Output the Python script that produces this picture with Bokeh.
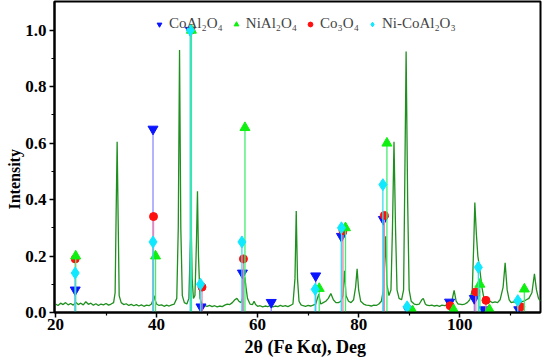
from bokeh.plotting import figure
from bokeh.models import Range1d, Legend, LegendItem, FixedTicker, ColumnDataSource, CustomJSTickFormatter, Title
from bokeh.embed import file_html
from bokeh.resources import INLINE

pattern_x = [20.0, 20.5, 21, 21.5, 22, 22.5, 23, 23.5, 24.0, 24.5, 25, 25.5, 26, 26.5, 27, 27.5, 28, 28.5, 29, 29.5,
             30, 30.5, 31, 31.5, 31.8, 32.0, 32.2, 32.4, 32.6, 33, 33.5, 34, 34.5, 35, 35.5, 36, 36.5, 37, 37.5, 38,
             38.5, 39, 39.3, 39.5, 39.7, 40, 40.5, 41, 41.5, 42, 42.5, 43, 43.5, 44, 44.3, 44.55, 44.8, 45.1, 45.5, 46,
             46.4, 46.65, 46.85, 47.05, 47.3, 47.6, 47.9, 48.1, 48.3, 48.6, 49, 49.5, 50, 50.5, 51, 51.5, 52, 52.5, 53, 53.5,
             54, 54.5, 55, 55.5, 55.9, 56.3, 56.7, 57.0, 57.3, 57.5, 57.7, 58, 58.5, 59, 59.3, 59.6, 60, 60.5, 61, 61.5,
             62, 62.5, 63, 63.5, 64, 64.5, 65, 65.5, 66, 66.5, 67, 67.4, 67.65, 67.9, 68.2, 68.6, 69, 69.5, 70, 70.5,
             71, 71.5, 72.1, 72.5, 73, 73.5, 74, 74.5, 75, 75.5, 76, 76.5, 76.9, 77.2, 77.5, 78, 78.5, 79, 79.4, 79.7,
             80, 80.4, 81, 81.5, 82, 82.5, 83, 83.5, 84, 84.5, 84.9, 85.2, 85.35, 85.6, 86, 86.4, 86.7, 87.0, 87.3, 87.6,
             88, 88.5, 88.9, 89.1, 89.4, 89.7, 90, 90.4, 91, 91.5, 92, 92.5, 92.8, 93.2, 93.5, 94, 94.5, 95, 95.5, 96,
             96.5, 97, 97.5, 98, 98.5, 98.9, 99.3, 99.7, 100, 100.5, 101, 101.5, 102, 102.5, 102.8, 103.0, 103.3, 103.6, 104, 104.4,
             104.8, 105.2, 105.7, 106, 106.5, 107, 107.5, 108, 108.6, 109.0, 109.4, 109.8, 110.2, 110.7, 111.2, 111.7, 112.2, 112.7, 113.2, 113.7,
             114.3, 114.8, 115.2, 115.6, 116]
pattern_y = [0.030, 0.025, 0.033, 0.028, 0.035, 0.027, 0.032, 0.026, 0.036, 0.028, 0.033, 0.027, 0.038, 0.029, 0.033, 0.026, 0.031, 0.025, 0.030, 0.027,
             0.032, 0.026, 0.030, 0.035, 0.070, 0.350, 0.605, 0.330, 0.060, 0.035, 0.028, 0.031, 0.025, 0.029, 0.024, 0.028, 0.023, 0.027, 0.022, 0.026,
             0.024, 0.030, 0.045, 0.060, 0.045, 0.030, 0.025, 0.027, 0.022, 0.026, 0.023, 0.027, 0.030, 0.050, 0.300, 0.930, 0.300, 0.060, 0.035, 0.030,
             0.050, 0.220, 0.310, 0.120, 0.050, 0.060, 0.250, 0.430, 0.200, 0.050, 0.030, 0.024, 0.022, 0.025, 0.021, 0.024, 0.020, 0.023, 0.021, 0.026,
             0.030, 0.028, 0.035, 0.045, 0.050, 0.040, 0.035, 0.050, 0.100, 0.125, 0.090, 0.050, 0.030, 0.028, 0.040, 0.028, 0.022, 0.024, 0.020, 0.023,
             0.021, 0.024, 0.020, 0.023, 0.021, 0.025, 0.022, 0.024, 0.021, 0.025, 0.030, 0.120, 0.360, 0.120, 0.040, 0.027, 0.024, 0.022, 0.025, 0.023,
             0.026, 0.030, 0.065, 0.030, 0.035, 0.040, 0.050, 0.067, 0.045, 0.035, 0.035, 0.040, 0.060, 0.148, 0.060, 0.040, 0.035, 0.045, 0.090, 0.155,
             0.080, 0.040, 0.030, 0.026, 0.025, 0.023, 0.026, 0.025, 0.030, 0.040, 0.080, 0.200, 0.270, 0.100, 0.060, 0.080, 0.300, 0.605, 0.300, 0.080,
             0.050, 0.045, 0.080, 0.400, 0.925, 0.400, 0.080, 0.040, 0.030, 0.028, 0.030, 0.045, 0.050, 0.030, 0.026, 0.024, 0.026, 0.023, 0.025, 0.022,
             0.026, 0.024, 0.027, 0.030, 0.045, 0.078, 0.040, 0.030, 0.030, 0.028, 0.030, 0.035, 0.045, 0.080, 0.250, 0.390, 0.280, 0.200, 0.150, 0.090,
             0.050, 0.040, 0.035, 0.040, 0.035, 0.038, 0.035, 0.045, 0.090, 0.176, 0.080, 0.045, 0.035, 0.038, 0.035, 0.040, 0.038, 0.040, 0.045, 0.050,
             0.070, 0.137, 0.080, 0.050, 0.040]

# Reference lines per phase
coal_x = [23.9, 39.3, 46.7, 48.8, 57.0, 62.7, 71.5, 76.6, 84.9, 89.8, 98.0, 102.9, 104.8, 111.7]
coal_y = [0.08, 0.65, 1.00, 0.02, 0.14, 0.036, 0.13, 0.27, 0.33, 0.01, 0.037, 0.05, 0.01, 0.01]
nial_x = [24.0, 39.8, 46.9, 57.5, 72.2, 77.4, 85.6, 90.7, 98.8, 104.0, 105.9, 112.8]
nial_y = [0.20, 0.20, 1.00, 0.655, 0.085, 0.30, 0.60, 0.005, 0.01, 0.10, 0.01, 0.083]
co3o4_x = [23.9, 39.4, 46.8, 49.0, 57.2, 76.9, 85.1, 90.1, 98.1, 103.2, 105.2, 112.1]
co3o4_y = [0.19, 0.34, 1.00, 0.09, 0.19, 0.29, 0.344, 0.01, 0.024, 0.073, 0.043, 0.02]
nico_x = [23.9, 39.3, 46.7, 48.7, 56.9, 71.4, 76.6, 84.8, 89.6, 103.7, 111.5]
nico_y = [0.14, 0.25, 1.00, 0.10, 0.25, 0.082, 0.30, 0.453, 0.02, 0.16, 0.042]

labels = ["CoAl\u2082O\u2084", "NiAl\u2082O\u2084", "Co\u2083O\u2084", "Ni-CoAl\u2082O\u2083"]
x_ticks = [20, 40, 60, 80, 100]
y_ticks = [0.0, 0.2, 0.4, 0.6, 0.8, 1.0]
x_title = "2\u03b8 (Fe K\u03b1), Deg"
y_title = "Intensity"

SERIF = "Liberation Serif"

p = figure(width=543, height=358, output_backend="svg", toolbar_location=None,
           x_range=Range1d(19.8, 116.0), y_range=Range1d(0.0, 1.102),
           min_border_left=54, min_border_right=3, min_border_top=1, min_border_bottom=0)
p.background_fill_color = "white"
p.border_fill_color = "white"
p.outline_line_color = "black"
p.outline_line_width = 2
p.xgrid.visible = False
p.ygrid.visible = False

p.axis.axis_line_width = 2
p.axis.major_tick_line_width = 1.5
p.axis.minor_tick_line_width = 1.2
p.axis.major_tick_in = 0
p.axis.major_tick_out = 5
p.axis.minor_tick_in = 0
p.axis.minor_tick_out = 3
p.axis.major_label_text_font = SERIF
p.axis.major_label_text_font_style = "bold"
p.axis.major_label_text_font_size = "17px"
p.axis.major_label_text_color = "black"

p.xaxis.ticker = FixedTicker(ticks=x_ticks, minor_ticks=[30, 50, 70, 90, 110])
p.yaxis.ticker = FixedTicker(ticks=y_ticks, minor_ticks=[0.1, 0.3, 0.5, 0.7, 0.9])
p.yaxis.formatter = CustomJSTickFormatter(code="return tick.toFixed(1);")
p.xaxis.major_label_standoff = 1
p.yaxis.major_label_standoff = 3

# axis titles
p.add_layout(Title(text=x_title, align="left", offset=190, standoff=4,
                   text_font=SERIF, text_font_style="bold", text_font_size="18px",
                   text_color="black"), "below")
p.add_layout(Title(text=y_title, align="left", offset=103, standoff=0,
                   text_font=SERIF, text_font_style="bold", text_font_size="16px",
                   text_color="black"), "left")

# pattern
p.line(pattern_x, pattern_y, line_color="#1f8f1f", line_width=1.3)

phases = [
    (coal_x, coal_y, "#8a8aff", "#0a14ff", "inverted_triangle", 10),
    (co3o4_x, co3o4_y, "#ff7fa0", "#ff1010", "circle", 8),
    (nial_x, nial_y, "#40ee70", "#10f010", "triangle", 10),
    (nico_x, nico_y, "#30e0f0", "#10e8ff", "diamond", 12),
]
renderers = []
for xs, ys, stem_c, mark_c, marker, size in phases:
    src = ColumnDataSource(dict(x=xs, y=ys, y0=[0.0] * len(xs)))
    p.segment(x0="x", y0="y0", x1="x", y1="y", source=src, line_color=stem_c, line_width=1.3)
    r = p.scatter("x", "y", source=src, marker=marker, size=size, fill_color=mark_c, line_color=mark_c)
    renderers.append(r)

# legend order: CoAl2O4, NiAl2O4, Co3O4, Ni-CoAl2O3
leg_r = [renderers[0], renderers[2], renderers[1], renderers[3]]
legend = Legend(items=[LegendItem(label=l, renderers=[r]) for l, r in zip(labels, leg_r)],
                orientation="horizontal", location=(99, 280),
                border_line_color=None, background_fill_alpha=0.0,
                label_text_font=SERIF, label_text_font_size="15px",
                glyph_width=12, glyph_height=14, label_height=14, label_standoff=4,
                spacing=7, padding=2, margin=0)
p.add_layout(legend)

open("out.html", "w").write(file_html(p, INLINE))
